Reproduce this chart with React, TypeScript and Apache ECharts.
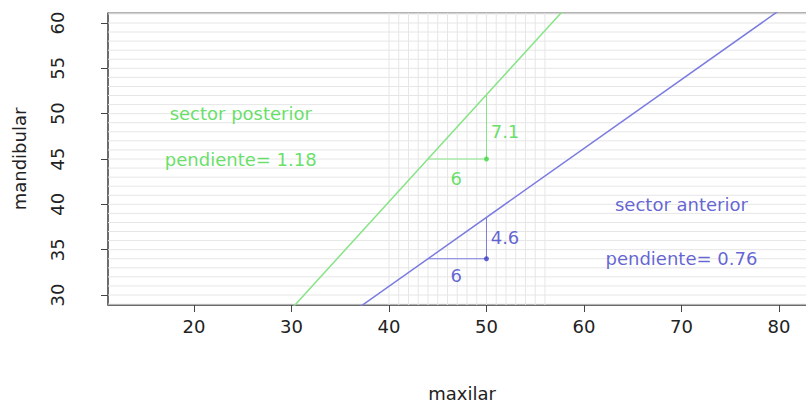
import React, { useEffect, useRef } from "react";
import * as echarts from "echarts";

const X_MIN = 11.18;
const X_MAX = 83.8;
const Y_MIN = 28.9;
const Y_MAX = 61.1;

const xTicks = [20, 30, 40, 50, 60, 70, 80];
const yTicks = [30, 35, 40, 45, 50, 55, 60];

const gridYLines = [29, 30, 31, 32, 33, 34, 35, 36, 37, 38, 39, 40, 41, 42, 43, 44, 45, 46, 47, 48, 49, 50, 51, 52, 53, 54, 55, 56, 57, 58, 59, 60, 61];
const gridXLines = [40, 41, 42, 43, 44, 45, 46, 47, 48, 49, 50, 51, 52, 53, 54, 55, 56];

// regression lines: y = intercept + slope * x
const posteriorLine = { intercept: -6.92, slope: 1.18 };
const anteriorLine = { intercept: 0.56, slope: 0.76 };
const lineXs = [0, 100];

const posteriorPoint = [50, 45];
const anteriorPoint = [50, 34];
const posteriorRun = [[44, 45], [50, 45]];
const posteriorRise = [[50, 45], [50, 52.1]];
const anteriorRun = [[44, 34], [50, 34]];
const anteriorRise = [[50, 34], [50, 38.56]];

const posteriorLabels = [
  { text: "sector posterior", x: 24.8, y: 50 },
  { text: "pendiente= 1.18", x: 24.8, y: 45 },
  { text: "7.1", x: 51.9, y: 48 },
  { text: "6", x: 46.9, y: 42.9 },
];
const anteriorLabels = [
  { text: "sector anterior", x: 70, y: 40 },
  { text: "pendiente= 0.76", x: 70, y: 34 },
  { text: "4.6", x: 51.9, y: 36.3 },
  { text: "6", x: 46.9, y: 32.1 },
];

const GREEN_TEXT = "#3fd83f";
const GREEN_LINE = "#86e486";
const BLUE_TEXT = "#3d3dc8";
const BLUE_LINE = "#7c7ce0";
const FONT = "DejaVu Sans";

function labelSeries(items: { text: string; x: number; y: number }[], color: string) {
  return {
    type: "scatter",
    symbolSize: 1,
    itemStyle: { color: "rgba(0,0,0,0)" },
    silent: true,
    z: 10,
    data: items.map((d) => ({ name: d.text, value: [d.x, d.y] })),
    label: {
      show: true,
      position: "inside",
      formatter: (p: any) => p.name,
      color,
      fontFamily: FONT,
      fontSize: 18,
      align: "center",
      verticalAlign: "middle",
    },
  };
}

function segSeries(data: number[][], color: string) {
  return {
    type: "line",
    data,
    symbol: "none",
    silent: true,
    lineStyle: { color, width: 1 },
    z: 5,
  };
}

export default function App() {
  const ref = useRef<HTMLDivElement>(null);
  useEffect(() => {
    if (!ref.current) return;
    const chart = echarts.init(ref.current, null, { renderer: "svg" });
    const axisLabelStyle = { color: "#222", fontFamily: FONT, fontSize: 18 };
    chart.setOption({
      animation: false,
      backgroundColor: "#ffffff",
      grid: {
        left: 108,
        top: 13,
        width: 708,
        bottom: 101,
        outerBoundsMode: "none",
        containLabel: false,
        show: true,
        borderColor: "#666",
        borderWidth: 1,
        backgroundColor: "transparent",
      },
      xAxis: {
        type: "value",
        min: X_MIN,
        max: X_MAX,
        name: "maxilar",
        nameLocation: "middle",
        nameGap: 79,
        nameTextStyle: { color: "#222", fontFamily: FONT, fontSize: 18 },
        splitLine: { show: false },
        axisLine: { show: true, onZero: false, lineStyle: { color: "#555", width: 1.5 } },
        axisTick: { show: true, length: 7, customValues: xTicks, lineStyle: { color: "#444" } },
        axisLabel: { ...axisLabelStyle, margin: 12, customValues: xTicks },
      },
      yAxis: {
        type: "value",
        min: Y_MIN,
        max: Y_MAX,
        name: "mandibular",
        nameLocation: "middle",
        nameGap: 80,
        nameRotate: 90,
        nameTextStyle: { color: "#222", fontFamily: FONT, fontSize: 18 },
        splitLine: { show: false },
        axisLine: { show: true, onZero: false, lineStyle: { color: "#555", width: 1.5 } },
        axisTick: { show: true, length: 7, customValues: yTicks, lineStyle: { color: "#444" } },
        axisLabel: { ...axisLabelStyle, margin: 42, rotate: 90, customValues: yTicks },
      },
      series: [
        {
          type: "custom",
          silent: true,
          z: 1,
          data: gridYLines.map((v) => [X_MIN, v]),
          renderItem: (params: any, api: any) => {
            const y = api.value(1);
            const p1 = api.coord([X_MIN, y]);
            const p2 = api.coord([X_MAX, y]);
            return {
              type: "line",
              shape: { x1: p1[0], y1: p1[1], x2: p2[0], y2: p2[1] },
              style: { stroke: "#e6e6e6", lineWidth: 1 },
            };
          },
        },
        {
          type: "custom",
          silent: true,
          z: 1,
          data: gridXLines.map((v) => [v, Y_MIN]),
          renderItem: (params: any, api: any) => {
            const x = api.value(0);
            const p1 = api.coord([x, Y_MIN]);
            const p2 = api.coord([x, Y_MAX]);
            return {
              type: "line",
              shape: { x1: p1[0], y1: p1[1], x2: p2[0], y2: p2[1] },
              style: { stroke: "#e6e6e6", lineWidth: 1 },
            };
          },
        },
        {
          type: "line",
          data: lineXs.map((x) => [x, posteriorLine.intercept + posteriorLine.slope * x]),
          symbol: "none",
          silent: true,
          clip: true,
          lineStyle: { color: GREEN_LINE, width: 1.5 },
          z: 4,
        },
        {
          type: "line",
          data: lineXs.map((x) => [x, anteriorLine.intercept + anteriorLine.slope * x]),
          symbol: "none",
          silent: true,
          clip: true,
          lineStyle: { color: BLUE_LINE, width: 1.5 },
          z: 4,
        },
        segSeries(posteriorRun, GREEN_LINE),
        segSeries(posteriorRise, GREEN_LINE),
        segSeries(anteriorRun, BLUE_LINE),
        segSeries(anteriorRise, BLUE_LINE),
        {
          type: "scatter",
          data: [posteriorPoint],
          symbolSize: 5,
          itemStyle: { color: GREEN_TEXT },
          silent: true,
          z: 6,
        },
        {
          type: "scatter",
          data: [anteriorPoint],
          symbolSize: 5,
          itemStyle: { color: BLUE_TEXT },
          silent: true,
          z: 6,
        },
        labelSeries(posteriorLabels, GREEN_TEXT),
        labelSeries(anteriorLabels, BLUE_TEXT),
      ],
    });
    return () => chart.dispose();
  }, []);
  return <div ref={ref} style={{ width: 806, height: 406, position: "absolute", left: 0, top: 0 }} />;
}
